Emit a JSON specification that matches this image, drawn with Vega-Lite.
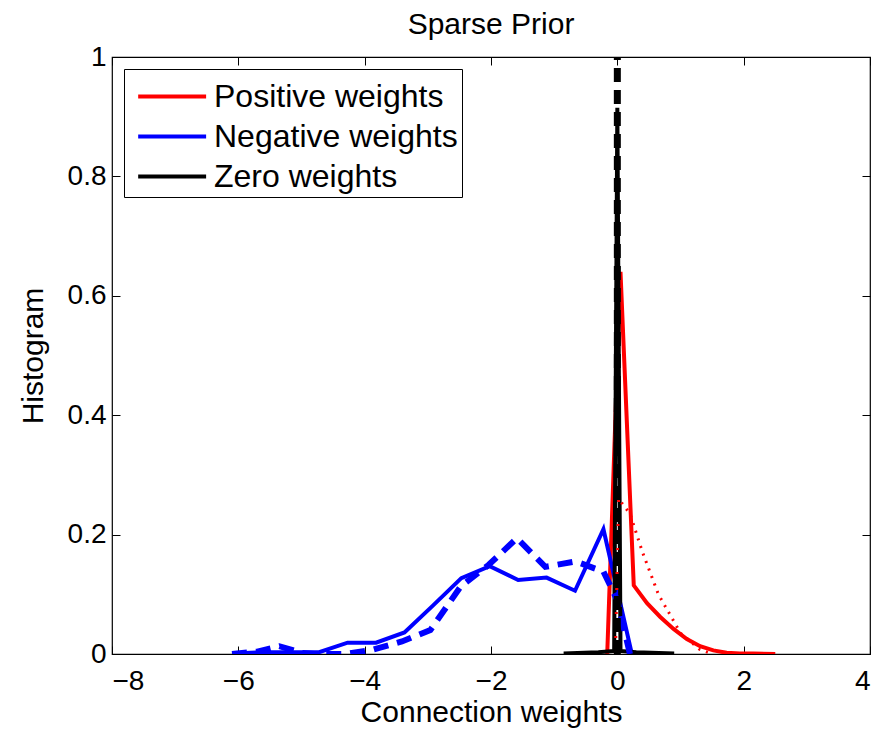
{
  "$schema": "https://vega.github.io/schema/vega-lite/v6.json",
  "width": 758,
  "height": 597,
  "autosize": {"type": "none"},
  "padding": {"left": 112, "top": 57, "right": 25, "bottom": 79},
  "background": "white",
  "title": {"text": "Sparse Prior", "fontSize": 30, "fontWeight": "normal", "font": "Liberation Sans", "offset": 3, "color": "black"},
  "config": {
    "font": "Liberation Sans",
    "view": {"stroke": "black", "strokeWidth": 1.2},
    "axis": {"grid": false, "domain": false, "tickColor": "black", "labelColor": "black", "titleColor": "black", "labelFontSize": 28, "titleFontSize": 30, "titleFontWeight": "normal", "labelFont": "Liberation Sans", "titleFont": "Liberation Sans", "tickSize": -8, "tickWidth": 1}
  },
  "data": {"values": [
    {"s": "Positive weights", "k": "solid", "x": -0.16, "y": 0.0},
    {"s": "Positive weights", "k": "solid", "x": 0.05, "y": 0.64},
    {"s": "Positive weights", "k": "solid", "x": 0.26, "y": 0.115},
    {"s": "Positive weights", "k": "solid", "x": 0.47, "y": 0.085},
    {"s": "Positive weights", "k": "solid", "x": 0.68, "y": 0.062},
    {"s": "Positive weights", "k": "solid", "x": 0.89, "y": 0.042},
    {"s": "Positive weights", "k": "solid", "x": 1.10, "y": 0.025},
    {"s": "Positive weights", "k": "solid", "x": 1.31, "y": 0.013},
    {"s": "Positive weights", "k": "solid", "x": 1.52, "y": 0.006},
    {"s": "Positive weights", "k": "solid", "x": 1.73, "y": 0.002},
    {"s": "Positive weights", "k": "solid", "x": 1.94, "y": 0.001},
    {"s": "Positive weights", "k": "solid", "x": 2.15, "y": 0.001},
    {"s": "Positive weights", "k": "solid", "x": 2.5, "y": 0.0},
    {"s": "Negative weights", "k": "solid", "x": -6.07, "y": 0.001},
    {"s": "Negative weights", "k": "solid", "x": -5.62, "y": 0.003},
    {"s": "Negative weights", "k": "solid", "x": -5.17, "y": 0.003},
    {"s": "Negative weights", "k": "solid", "x": -4.72, "y": 0.003},
    {"s": "Negative weights", "k": "solid", "x": -4.27, "y": 0.019},
    {"s": "Negative weights", "k": "solid", "x": -3.82, "y": 0.019},
    {"s": "Negative weights", "k": "solid", "x": -3.37, "y": 0.036},
    {"s": "Negative weights", "k": "solid", "x": -2.92, "y": 0.081},
    {"s": "Negative weights", "k": "solid", "x": -2.47, "y": 0.127},
    {"s": "Negative weights", "k": "solid", "x": -2.02, "y": 0.147},
    {"s": "Negative weights", "k": "solid", "x": -1.57, "y": 0.124},
    {"s": "Negative weights", "k": "solid", "x": -1.12, "y": 0.128},
    {"s": "Negative weights", "k": "solid", "x": -0.67, "y": 0.106},
    {"s": "Negative weights", "k": "solid", "x": -0.22, "y": 0.209},
    {"s": "Negative weights", "k": "solid", "x": 0.23, "y": 0.0},
    {"s": "Zero weights", "k": "solid", "x": -0.85, "y": 0.001},
    {"s": "Zero weights", "k": "solid", "x": -0.3, "y": 0.003},
    {"s": "Zero weights", "k": "solid", "x": -0.05, "y": 0.005},
    {"s": "Zero weights", "k": "solid", "x": 0.0, "y": 0.915},
    {"s": "Zero weights", "k": "solid", "x": 0.05, "y": 0.005},
    {"s": "Zero weights", "k": "solid", "x": 0.3, "y": 0.003},
    {"s": "Zero weights", "k": "solid", "x": 0.9, "y": 0.001},
    {"s": "Positive weights", "k": "dash", "x": -0.03, "y": 0.0},
    {"s": "Positive weights", "k": "dash", "x": 0.02, "y": 0.26},
    {"s": "Positive weights", "k": "dash", "x": 0.2, "y": 0.235},
    {"s": "Positive weights", "k": "dash", "x": 0.4, "y": 0.17},
    {"s": "Positive weights", "k": "dash", "x": 0.65, "y": 0.1},
    {"s": "Positive weights", "k": "dash", "x": 1.0, "y": 0.035},
    {"s": "Positive weights", "k": "dash", "x": 1.3, "y": 0.008},
    {"s": "Positive weights", "k": "dash", "x": 1.5, "y": 0.0},
    {"s": "Negative weights", "k": "dash", "x": -6.1, "y": 0.0},
    {"s": "Negative weights", "k": "dash", "x": -5.7, "y": 0.004},
    {"s": "Negative weights", "k": "dash", "x": -5.35, "y": 0.013},
    {"s": "Negative weights", "k": "dash", "x": -5.0, "y": 0.002},
    {"s": "Negative weights", "k": "dash", "x": -4.8, "y": 0.0},
    {"s": "Negative weights", "k": "dash", "x": -4.3, "y": 0.0},
    {"s": "Negative weights", "k": "dash", "x": -3.88, "y": 0.007},
    {"s": "Negative weights", "k": "dash", "x": -3.41, "y": 0.021},
    {"s": "Negative weights", "k": "dash", "x": -2.96, "y": 0.04},
    {"s": "Negative weights", "k": "dash", "x": -2.48, "y": 0.113},
    {"s": "Negative weights", "k": "dash", "x": -2.04, "y": 0.149},
    {"s": "Negative weights", "k": "dash", "x": -1.59, "y": 0.194},
    {"s": "Negative weights", "k": "dash", "x": -1.14, "y": 0.146},
    {"s": "Negative weights", "k": "dash", "x": -0.66, "y": 0.155},
    {"s": "Negative weights", "k": "dash", "x": -0.22, "y": 0.138},
    {"s": "Negative weights", "k": "dash", "x": 0.0, "y": 0.09},
    {"s": "Negative weights", "k": "dash", "x": 0.2, "y": 0.0},
    {"s": "Zero weights", "k": "dash", "x": 0.0, "y": 0.0},
    {"s": "Zero weights", "k": "dash", "x": 0.0, "y": 1.0}
  ]},
  "layer": [
    {
      "transform": [{"filter": "datum.s === 'Positive weights' && datum.k === 'solid'"}],
      "mark": {"type": "line", "strokeWidth": 4, "clip": true},
      "encoding": {
        "x": {"field": "x", "type": "quantitative", "scale": {"domain": [-8, 4], "nice": false, "zero": false},
              "axis": {"orient": "bottom", "values": [-8, -6, -4, -2, 0, 2, 4], "title": "Connection weights", "labelPadding": 21, "titlePadding": 2}},
        "y": {"field": "y", "type": "quantitative", "scale": {"domain": [0, 1], "nice": false},
              "axis": {"orient": "left", "values": [0, 0.2, 0.4, 0.6, 0.8, 1], "format": "~g", "title": "Histogram", "labelPadding": 14, "titlePadding": 19}},
        "color": {"field": "s", "type": "nominal",
                  "scale": {"domain": ["Positive weights", "Negative weights", "Zero weights"], "range": ["#ff0000", "#0000ff", "#000000"]},
                  "legend": {"title": null, "orient": "none", "legendX": 12, "legendY": 12, "symbolType": "M-0.62,0L2.54,0", "symbolStrokeWidth": 4, "symbolSize": 1849, "symbolFillColor": "transparent", "labelFontSize": 32, "labelFont": "Liberation Sans", "labelColor": "black", "labelLimit": 0, "strokeColor": "black", "fillColor": "white", "padding": 4, "rowPadding": 0, "labelOffset": 39}}
      }
    },
    {
      "transform": [{"filter": "datum.s === 'Negative weights' && datum.k === 'solid'"}],
      "mark": {"type": "line", "strokeWidth": 4, "clip": true},
      "encoding": {
        "x": {"field": "x", "type": "quantitative", "axis": {"orient": "top", "values": [-8, -6, -4, -2, 0, 2, 4], "labels": false, "title": null}},
        "y": {"field": "y", "type": "quantitative", "axis": {"orient": "right", "values": [0, 0.2, 0.4, 0.6, 0.8, 1], "labels": false, "title": null}},
        "color": {"field": "s", "type": "nominal"}
      }
    },
    {
      "transform": [{"filter": "datum.s === 'Zero weights' && datum.k === 'solid'"}],
      "mark": {"type": "line", "strokeWidth": 4, "clip": true},
      "encoding": {
        "x": {"field": "x", "type": "quantitative", "axis": null},
        "y": {"field": "y", "type": "quantitative", "axis": null},
        "color": {"field": "s", "type": "nominal"}
      }
    },
    {
      "transform": [{"filter": "datum.s === 'Positive weights' && datum.k === 'dash'"}],
      "mark": {"type": "line", "strokeWidth": 3, "strokeDash": [2, 6], "clip": true},
      "encoding": {
        "x": {"field": "x", "type": "quantitative", "axis": null},
        "y": {"field": "y", "type": "quantitative", "axis": null},
        "color": {"field": "s", "type": "nominal"}
      }
    },
    {
      "transform": [{"filter": "datum.s === 'Negative weights' && datum.k === 'dash'"}],
      "mark": {"type": "line", "strokeWidth": 6, "strokeDash": [15, 9], "clip": true},
      "encoding": {
        "x": {"field": "x", "type": "quantitative", "axis": null},
        "y": {"field": "y", "type": "quantitative", "axis": null},
        "color": {"field": "s", "type": "nominal"}
      }
    },
    {
      "transform": [{"filter": "datum.s === 'Zero weights' && datum.k === 'dash'"}],
      "mark": {"type": "line", "strokeWidth": 7, "strokeDash": [14, 8], "clip": true},
      "encoding": {
        "x": {"field": "x", "type": "quantitative", "axis": null},
        "y": {"field": "y", "type": "quantitative", "axis": null},
        "color": {"field": "s", "type": "nominal"}
      }
    }
  ],
  "resolve": {"axis": {"x": "independent", "y": "independent"}}
}
